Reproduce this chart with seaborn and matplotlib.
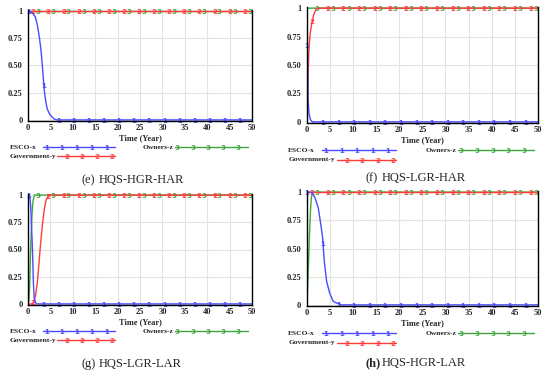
import numpy as np
import matplotlib
matplotlib.use("Agg")
import matplotlib.pyplot as plt
import seaborn as sns

# time (years) and shares
# (e) HQS-HGR-HAR
e_tx = [0, 0.5, 1.0, 1.6, 2.0, 2.3, 2.6, 2.9, 3.2, 3.6, 4.0, 4.3, 4.8, 5.3, 5.8, 6.4, 50]
e_x = [1.0, 0.995, 0.98, 0.95, 0.89, 0.82, 0.74, 0.64, 0.50, 0.28, 0.16, 0.10, 0.055, 0.03, 0.01, 0.0, 0.0]
e_ty = [0, 50]
e_y = [1.0, 1.0]
e_tz = [0, 50]
e_z = [1.0, 1.0]

# (f) HQS-LGR-HAR
f_tx = [0, 0.1, 0.2, 0.3, 0.5, 0.8, 1.2, 50]
f_x = [1.0, 0.85, 0.5, 0.2, 0.07, 0.02, 0.0, 0.0]
f_ty = [0, 0.15, 0.3, 0.45, 0.7, 1.1, 1.5, 2.0, 2.4, 50]
f_y = [0.0, 0.12, 0.4, 0.6, 0.76, 0.87, 0.94, 0.99, 1.0, 1.0]
f_tz = [0, 0.05, 50]
f_z = [0.0, 1.0, 1.0]

# (g) HQS-LGR-LAR
g_tx = [0, 0.4, 0.6, 0.8, 1.0, 1.2, 1.4, 1.7, 2.0, 50]
g_x = [1.0, 0.99, 0.9, 0.7, 0.5, 0.2, 0.05, 0.01, 0.0, 0.0]
g_ty = [0, 1.0, 1.3, 1.7, 2.1, 2.5, 2.8, 3.2, 3.6, 4.0, 4.5, 4.8, 50]
g_y = [0.0, 0.0, 0.02, 0.08, 0.2, 0.4, 0.55, 0.72, 0.86, 0.95, 0.99, 1.0, 1.0]
g_tz = [0, 0.2, 0.4, 0.55, 0.7, 0.9, 1.1, 1.4, 50]
g_z = [0.0, 0.03, 0.2, 0.45, 0.62, 0.82, 0.94, 1.0, 1.0]

# (h) HQS-HGR-LAR
h_tx = [0, 1.1, 1.8, 2.5, 3.1, 3.45, 3.8, 4.3, 5.0, 5.75, 6.8, 7.5, 50]
h_x = [1.0, 1.0, 0.95, 0.86, 0.70, 0.59, 0.39, 0.21, 0.10, 0.03, 0.01, 0.0, 0.0]
h_ty = [0, 50]
h_y = [1.0, 1.0]
h_tz = [0, 0.2, 0.4, 0.6, 0.8, 1.0, 1.3, 50]
h_z = [0.0, 0.15, 0.38, 0.62, 0.82, 0.95, 1.0, 1.0]

x_ticks = [0, 5, 10, 15, 20, 25, 30, 35, 40, 45, 50]
y_ticks = [0, 0.25, 0.5, 0.75, 1]
y_labels = ['0', '0.25', '0.50', '0.75', '1']

BLUE = '#4a4aff'
RED = '#ff3c3c'
GREEN = '#3fa63f'

sns.set_style('white')
plt.rcParams['font.family'] = ['Liberation Serif', 'DejaVu Serif']

W, H = 550, 374
fig = plt.figure(figsize=(5.5, 3.74), dpi=100)

tick_font = dict(family='Liberation Serif', weight='bold', size=6)
MS = 3.4


def draw_series(ax, t, v, color, num, start):
    sns.lineplot(x=t, y=v, ax=ax, color=color, lw=1.0, estimator=None)
    # number markers along the curve, Vensim-style
    mt = np.arange(start, 50.01, 3.37)
    my = np.interp(mt, t, v)
    ax.plot(mt, my, ls='none', marker='$\\mathbf{%s}$' % num, ms=MS,
            color=color, mew=0.1, clip_on=False)


def draw_legend(ax, r1, r2):
    kw = dict(transform=ax.transAxes, clip_on=False, va='center', ha='left',
              fontsize=5.4, fontweight='bold', family='Liberation Serif')
    ax.text(-0.08, r1, 'ESCO-x', **kw)
    ax.text(-0.08, r2, 'Government-y', **kw)
    ax.text(0.513, r1, 'Owners-z', **kw)
    items = [
        (BLUE, '1', r1, 0.067, 0.388, [0.085, 0.152, 0.219, 0.286, 0.353]),
        (RED, '2', r2, 0.13, 0.388, [0.174, 0.241, 0.308, 0.375]),
        (GREEN, '3', r1, 0.656, 0.982, [0.665, 0.737, 0.804, 0.871, 0.9375]),
    ]
    for color, num, row, x0, x1, mk in items:
        ax.plot([x0, x1], [row, row], color=color, lw=1.0,
                transform=ax.transAxes, clip_on=False)
        ax.plot(mk, [row] * len(mk), ls='none', marker='$\\mathbf{%s}$' % num,
                ms=MS, mew=0.1, color=color, transform=ax.transAxes, clip_on=False)


def px_rect(left, top, right, bottom):
    return [left / W, 1 - bottom / H, (right - left) / W, (bottom - top) / H]


panels = [
    (px_rect(28, 10, 252, 121), (e_tx, e_x, e_ty, e_y, e_tz, e_z), '(e)', 'HQS-HGR-HAR', (82, 180), False),
    (px_rect(306.7, 7, 538, 123), (f_tx, f_x, f_ty, f_y, f_tz, f_z), '(f)', 'HQS-LGR-HAR', (365, 178), False),
    (px_rect(28, 194, 252, 305), (g_tx, g_x, g_ty, g_y, g_tz, g_z), '(g)', 'HQS-LGR-LAR', (82, 364), False),
    (px_rect(306.7, 191, 538, 306), (h_tx, h_x, h_ty, h_y, h_tz, h_z), '(h)', 'HQS-HGR-LAR', (365, 363), True),
]

for rect, data, tag, name, (lx, cy), bold_tag in panels:
    ax = fig.add_axes(rect)
    tx, xv, ty, yv, tz, zv = data
    draw_series(ax, tz, zv, GREEN, '3', 2.3)
    draw_series(ax, ty, yv, RED, '2', 1.2)
    draw_series(ax, tx, xv, BLUE, '1', 0.15)

    ax.set_xlim(0, 50)
    ax.set_ylim(-0.01, 1.01)
    ax.set_xticks(x_ticks)
    ax.set_yticks(y_ticks)
    ax.set_xticklabels([str(v) for v in x_ticks], fontdict=tick_font)
    ax.set_yticklabels(y_labels, fontdict=tick_font)
    ax.tick_params(length=0)
    ax.tick_params(axis='x', pad=2.5)
    ax.tick_params(axis='y', pad=4)
    ax.grid(True, color='#e2e2e2', lw=0.8)
    ax.set_axisbelow(True)
    ax.set_xlabel('Time (Year)', fontdict=tick_font, labelpad=1)
    ax.set_ylabel('')
    for side in ['left', 'bottom', 'right']:
        ax.spines[side].set_color('black')
        ax.spines[side].set_linewidth(1.0)
    ax.spines['top'].set_visible(False)

    draw_legend(ax, -0.235, -0.318)

    # caption under the panel
    tw = 'bold' if bold_tag else 'normal'
    fig.text(lx / W, 1 - cy / H, tag, ha='left', va='center',
             fontsize=9, fontweight=tw, family='Liberation Serif')
    fig.text((lx + 17) / W, 1 - cy / H, name, ha='left', va='center',
             fontsize=9, family='Liberation Serif')

fig.savefig('out.png', dpi=100)
